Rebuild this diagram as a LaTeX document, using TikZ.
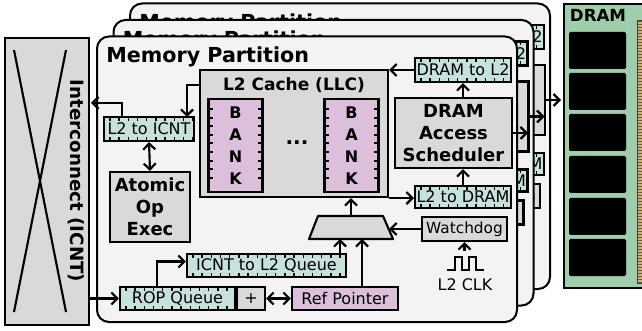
\documentclass[tikz,border=0pt]{standalone}
\usepackage{fontspec}
\setmainfont{DejaVu Sans}
\usetikzlibrary{arrows.meta}
\definecolor{partfill}{RGB}{243,243,243}
\definecolor{boxgray}{RGB}{217,217,217}
\definecolor{qcyan}{RGB}{198,225,222}
\definecolor{bankpink}{RGB}{219,191,219}
\definecolor{dramgreen}{RGB}{158,206,172}
\definecolor{pingold}{RGB}{214,178,106}
\newcommand\myBold{\bfseries\fontsize{13.5}{16.5}\selectfont}
\newcommand\myReg{\fontsize{12}{13}\selectfont}
\newif\iffulltext
\newcommand\T[1]{\iffulltext#1\fi}
\tikzset{
  arr/.style={line width=1.6pt,-{Straight Barb[length=4.5pt,width=9pt]}},
  darr/.style={line width=1.6pt,{Straight Barb[length=4.5pt,width=9pt]}-{Straight Barb[length=4.5pt,width=9pt]}},
  sz/.style 2 args={minimum width=#1*0.75pt, minimum height=#2*0.75pt},
  part/.style={draw, line width=1.5pt, fill=partfill, rounded corners=9pt, inner sep=0pt},
  gbox/.style={draw, line width=1.6pt, fill=boxgray, inner sep=0pt, align=center},
  pbox/.style={draw, line width=1.6pt, fill=bankpink, inner sep=0pt, font=\myReg},
  bank/.style={draw, line width=1.6pt, fill=bankpink, inner sep=0pt, align=center,
    font=\bfseries\fontsize{12}{16.5}\selectfont},
  queue/.style={draw, line width=1.6pt, fill=qcyan, inner sep=0pt, font=\myReg,
    path picture={
      \draw[line width=6pt, dash pattern=on 1.1pt off 5.8pt, dash phase=3pt]
        (path picture bounding box.north west) -- (path picture bounding box.north east)
        (path picture bounding box.south west) -- (path picture bounding box.south east);
    }},
  lbl/.style={inner sep=0pt},
  partition/.pic={
    \node[part, sz={420}{285.5}] (frame) at (307,179.25) {};
    \node[lbl, anchor=base west, font=\bfseries\fontsize{15.5}{17}\selectfont] (title) at (106,63) {Memory Partition};
    \node[gbox, sz={188}{127}] (cache) at (294,133.5) {};
    \node[lbl, anchor=base, font=\bfseries\fontsize{12.75}{14}\selectfont] (ctitle) at (294,91) {\T{L2 Cache (LLC)}};
    \node[bank, sz={54}{93}] (bankA) at (235.5,145.5) {\T{B\\A\\N\\K}};
    \node[bank, sz={54}{93}] (bankB) at (351.5,145.5) {\T{B\\A\\N\\K}};
    \foreach \b in {bankA,bankB} \foreach \i in {0,...,8} {
      \draw[line width=1.5pt] ([yshift=-8.25pt-\i*6.45pt]\b.north west) -- ++(4.5pt,0);
      \draw[line width=1.5pt] ([yshift=-8.25pt-\i*6.45pt]\b.north east) -- ++(-4.5pt,0);
    }
    \node[lbl, font=\bfseries\fontsize{15}{16}\selectfont] (dots) at (297,143) {\T{...}};
    \node[queue, sz={96}{24}] (dtol) at (463,70) {DRAM to L2};
    \node[gbox, sz={117}{70}, font=\myBold] (sched) at (453.5,133) {\T{DRAM\\Access\\Scheduler}};
    \node[queue, sz={96}{22}] (ltod) at (463,197) {L2 to DRAM};
    \node[gbox, sz={85}{24}, font=\fontsize{11.5}{13}\selectfont] (wd) at (464.5,229) {Watchdog};
    \draw[line width=1.6pt, fill=boxgray, line join=round] (318,216) -- (383,216) -- (393,239) -- (309,239) -- cycle;
    \coordinate (muxn) at (351,216);
    \coordinate (muxs) at (351,239);
    \coordinate (muxe) at (389,229);
    \node[queue, sz={159}{23}] (icq) at (266.5,265.5) {\T{ICNT to L2 Queue}};
    \node[pbox, sz={106}{23}] (rp) at (345,298.5) {\T{Ref Pointer}};
    \node[gbox, sz={28}{23}, font=\myReg] (plus) at (251,298.5) {\T{+}};
    \node[queue, sz={115}{23}] (rop) at (177.5,298.5) {\T{ROP Queue}};
    \node[queue, sz={90}{24}] (ltoi) at (149,129) {\T{L2 to ICNT}};
    \node[gbox, sz={80}{70}, font=\myBold] (atom) at (150,207) {\T{Atomic\\Op\\Exec}};
    \node[lbl, font=\myReg] (clklab) at (465,285) {\T{L2 CLK}};
    \coordinate (clk) at (464.5,251);
    \coordinate (icout) at (91,103);
    \coordinate (icin) at (89,298.5);
    \coordinate (dout) at (528,133);
    \coordinate (icqup) at (340,254);
    \coordinate (rpup) at (362,287);
    \coordinate (ropup) at (157,287);
    \coordinate (ltoiup) at (122,117);
    \coordinate (cachel) at (200,85);
    \coordinate (ltoidn) at (187,117);
    \draw[line width=1.5pt] (447,270) -- (455,270) -- (455,257) -- (462,257) -- (462,270)
      -- (469,270) -- (469,257) -- (476,257) -- (476,270) -- (484,270);
    \draw[arr] (dtol.west) -- (dtol.west -| cache.east);
    \draw[arr] (sched.north -| dtol.south) -- (dtol.south);
    \draw[arr] (ltod.north) -- (ltod.north |- sched.south);
    \draw[arr] (cache.south east) -- (cache.south east -| ltod.west);
    \draw[arr] (muxn) -- (muxn |- cache.south);
    \draw[arr] (wd.west) -- (muxe);
    \draw[arr] (clk) -- (wd.south);
    \draw[arr] (icqup) -- (icqup |- muxs);
    \draw[arr] (rpup) -- (rpup |- muxs);
    \draw[darr] (plus.east) -- (rp.west);
    \draw[arr] (icin) -- (rop.west);
    \draw[arr] (ropup) |- ([yshift=3pt]icq.west);
    \draw[arr] (ltoiup) |- (icout);
    \draw[arr] (cachel) -| (ltoidn);
    \draw[darr] (ltoi.south) -- (atom.north);
    \draw[arr] (sched.east) -- (dout);
  }
}
\begin{document}
\begin{tikzpicture}[x=0.75pt,y=-0.75pt]
\useasboundingbox (0,0) rectangle (642,331);
\clip (0,0) rectangle (642,331);
\fill[white] (0,0) rectangle (642,331);
% DRAM module
\node[draw, line width=1.6pt, fill=dramgreen, sz={100}{284}, anchor=north west, inner sep=0pt] (dram) at (563,3) {};
\node[lbl, font=\bfseries\fontsize{12.5}{14}\selectfont] (dramlab) at (598,15) {DRAM};
\foreach \y in {32,73,114,156,198,239}
  \fill[black, rounded corners=1pt] (569,\y) rectangle (626,\y+37);
\fill[pingold] (637,20) rectangle (652,283);
\foreach \y in {21,24,...,282}
  \draw[gray!70!black, line width=0.4pt] (637,\y) -- (652,\y);
\draw[gray!50!black, line width=0.5pt] (637,20) rectangle (652,283);
% Interconnect
\node[gbox, sz={84}{287}] (icnt) at (47,181.5) {};
\draw[line width=1.6pt] (14,50) -- (66,312) (66,50) -- (14,312);
\node[lbl, rotate=-90, font=\bfseries\fontsize{13.7}{16}\selectfont] (icntlab) at (76,181) {Interconnect (ICNT)};
% partitions
\fulltextfalse
\pic (pc) at (33,-33) {partition};
\pic (pb) at (16.5,-16.5) {partition};
\fulltexttrue
\pic (pa) at (0,0) {partition};
\end{tikzpicture}
\end{document}
